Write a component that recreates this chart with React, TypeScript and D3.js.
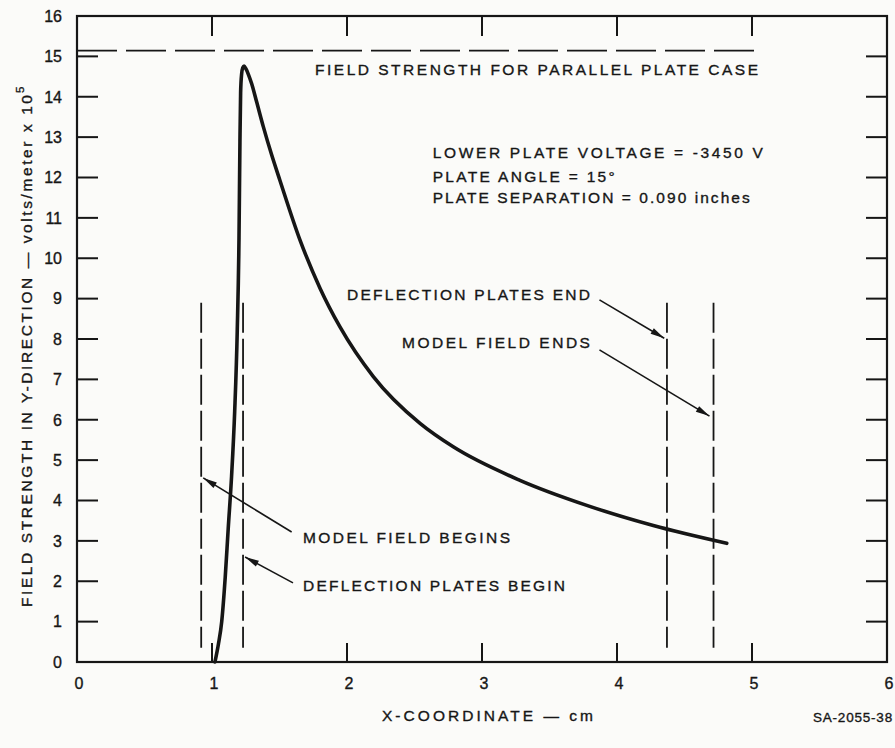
import React from "react";
import * as d3 from "d3";

const W = 895;
const H = 748;

// Curve: field strength (volts/meter x 10^5) vs x-coordinate (cm)
const curveX = [1.022, 1.048, 1.072, 1.098, 1.12, 1.145, 1.168, 1.187, 1.2, 1.207, 1.212, 1.219, 1.228, 1.238, 1.25, 1.27, 1.294, 1.33, 1.38, 1.44, 1.504, 1.652, 1.8, 1.948, 2.195, 2.541, 2.787, 3.281, 3.776, 4.269, 4.813];
const curveY = [0, 0.45, 1.0, 2.1, 3.3, 4.6, 6.2, 8.2, 10.5, 12.9, 14.1, 14.55, 14.72, 14.76, 14.7, 14.55, 14.32, 13.88, 13.26, 12.58, 11.92, 10.45, 9.26, 8.3, 7.07, 5.91, 5.33, 4.5, 3.88, 3.38, 2.94];

const xTicks = [0, 1, 2, 3, 4, 5, 6];
const yTicks = d3.range(0, 17);

const parallelPlateValue = 15.14;
const parallelPlateXEnd = 5.04;

// Vertical dashed markers (cm): model field begins, plates begin, plates end, model field ends
const markerX = [0.92, 1.23, 4.37, 4.715];
const markerYTop = 8.9;
const markerYBottom = 0.35;

// Annotation arrows (data units): from -> tip
const arrowFromX = [1.59, 1.6, 3.87, 3.87];
const arrowFromY = [3.22, 1.96, 8.97, 7.73];
const arrowToX = [0.935, 1.245, 4.35, 4.685];
const arrowToY = [4.56, 2.6, 8.02, 6.09];

const xAxisLabel = "X-COORDINATE — cm";
const yAxisLabel = "FIELD STRENGTH IN Y-DIRECTION — volts/meter x 10";
const yAxisExp = "5";
const parallelLabel = "FIELD STRENGTH FOR PARALLEL PLATE CASE";
const paramLines = ["LOWER PLATE VOLTAGE = -3450 V", "PLATE ANGLE = 15°", "PLATE SEPARATION = 0.090 inches"];
const sourceId = "SA-2055-38";

const FONT = "'Liberation Sans', Arial, Helvetica, sans-serif";
const INK = "#161616";

export default function App() {
  const x = d3.scaleLinear().domain([0, 6]).range([77, 887]);
  const y = d3.scaleLinear().domain([0, 16]).range([662, 16]);

  const pts: [number, number][] = curveX.map((v, i) => [v, curveY[i]]);
  const line = d3
    .line<[number, number]>()
    .x((d) => x(d[0]))
    .y((d) => y(d[1]))
    .curve(d3.curveMonotoneX);

  const arrowHead = (x1: number, y1: number, x2: number, y2: number) => {
    const ang = Math.atan2(y2 - y1, x2 - x1);
    const len = 14;
    const wid = 3.2;
    const bx = x2 - len * Math.cos(ang);
    const by = y2 - len * Math.sin(ang);
    const px = -Math.sin(ang) * wid;
    const py = Math.cos(ang) * wid;
    return `M${x2},${y2}L${bx + px},${by + py}L${bx - px},${by - py}Z`;
  };

  const textStyle: React.CSSProperties = {
    fontFamily: FONT,
    fill: INK,
    stroke: INK,
    strokeWidth: 0.35,
  };

  const ann = (
    key: string,
    label: string,
    dx: number,
    dy: number,
    len: number,
    extraY = 0
  ) => (
    <text
      key={key}
      x={x(dx)}
      y={y(dy) + extraY}
      fontSize={15.5}
      textLength={len}
      lengthAdjust="spacing"
      style={textStyle}
    >
      {label}
    </text>
  );

  return (
    <svg width={W} height={H} style={{ position: "absolute", left: 0, top: 0, background: "#fbfbf9" }}>
      {/* frame */}
      <rect x={x(0)} y={y(16)} width={x(6) - x(0)} height={y(0) - y(16)} fill="none" stroke={INK} strokeWidth={2.2} />

      {/* y ticks left and right */}
      {yTicks.map((t) => (
        <g key={"yt" + t}>
          {t > 0 && t < 16 && (
            <>
              <line x1={x(0)} x2={x(0) + 21} y1={y(t)} y2={y(t)} stroke={INK} strokeWidth={2} />
              <line x1={x(6)} x2={x(6) - 21} y1={y(t)} y2={y(t)} stroke={INK} strokeWidth={2} />
            </>
          )}
          <text x={62} y={y(t)} dy="0.36em" textAnchor="end" fontSize={16} style={textStyle}>
            {t}
          </text>
        </g>
      ))}

      {/* x ticks top and bottom */}
      {xTicks.map((t) => (
        <g key={"xt" + t}>
          {t > 0 && t < 6 && (
            <>
              <line x1={x(t)} x2={x(t)} y1={y(0)} y2={y(0) - 19} stroke={INK} strokeWidth={2} />
              <line x1={x(t)} x2={x(t)} y1={y(16)} y2={y(16) + 20} stroke={INK} strokeWidth={2} />
            </>
          )}
          <text x={x(t) + 2} y={689} textAnchor="middle" fontSize={16} style={textStyle}>
            {t}
          </text>
        </g>
      ))}

      {/* parallel plate dashed line */}
      <line
        x1={x(0)}
        x2={x(parallelPlateXEnd)}
        y1={y(parallelPlateValue)}
        y2={y(parallelPlateValue)}
        stroke={INK}
        strokeWidth={1.7}
        strokeDasharray="40,9"
      />
      {ann("pp", parallelLabel, 1.763, 14.54, 443)}

      {/* parameters */}
      {paramLines.map((s, i) => ann("p" + i, s, 2.635, 12.48, [330, 182, 317][i], [0, 23.5, 45][i]))}

      {/* vertical dashed markers */}
      {markerX.map((m) => (
        <line
          key={"m" + m}
          x1={x(m)}
          x2={x(m)}
          y1={y(markerYTop)}
          y2={y(markerYBottom)}
          stroke={INK}
          strokeWidth={1.8}
          strokeDasharray="30,6"
        />
      ))}

      {/* curve */}
      <path d={line(pts) || ""} fill="none" stroke={INK} strokeWidth={3.6} strokeLinecap="round" strokeLinejoin="round" />

      {/* arrows */}
      {arrowFromX.map((fx, i) => {
        const x1 = x(fx);
        const y1 = y(arrowFromY[i]);
        const x2 = x(arrowToX[i]);
        const y2 = y(arrowToY[i]);
        return (
          <g key={"a" + i}>
            <line x1={x1} y1={y1} x2={x2} y2={y2} stroke={INK} strokeWidth={1.6} />
            <path d={arrowHead(x1, y1, x2, y2)} fill={INK} />
          </g>
        );
      })}

      {/* annotation labels */}
      {ann("mfb", "MODEL FIELD BEGINS", 1.674, 2.95, 207)}
      {ann("dpb", "DEFLECTION PLATES BEGIN", 1.674, 1.76, 262)}
      {ann("dpe", "DEFLECTION PLATES END", 2.0, 8.97, 243)}
      {ann("mfe", "MODEL FIELD ENDS", 2.407, 7.78, 188)}

      {/* axis labels */}
      <text x={382} y={721} fontSize={15.5} textLength={211} lengthAdjust="spacing" style={textStyle}>
        {xAxisLabel}
      </text>
      <text
        transform="translate(32,607) rotate(-90)"
        fontSize={15.5}
        textLength={512}
        lengthAdjust="spacing"
        style={textStyle}
      >
        {yAxisLabel}
      </text>
      <text transform="translate(24,607) rotate(-90)" x={514} fontSize={11.5} style={textStyle}>
        {yAxisExp}
      </text>

      <text x={893} y={722} textAnchor="end" fontSize={13.5} letterSpacing={0.8} style={textStyle}>
        {sourceId}
      </text>
    </svg>
  );
}
